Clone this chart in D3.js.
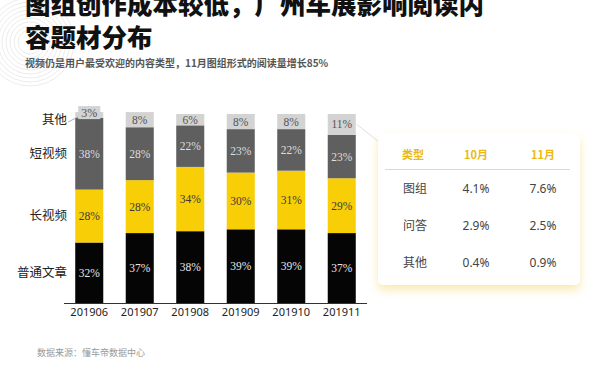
<!DOCTYPE html>
<html>
<head>
<meta charset="utf-8">
<script src="https://cdn.jsdelivr.net/npm/d3@7"></script>
<style>
  body { margin: 0; background: #fff; }
  svg { display: block; font-family: "Noto Sans CJK SC", "Noto Sans", sans-serif; }
  .pct { font-family: "Liberation Serif", "DejaVu Serif", serif; }
</style>
</head>
<body>
<div id="chart"></div>
<script>
// datos del grafico
const meses = ['201906', '201907', '201908', '201909', '201910', '201911'];
const tipos = ['普通文章', '长视频', '短视频', '其他'];
const articulo = [32, 37, 38, 39, 39, 37];
const videoLargo = [28, 28, 34, 30, 31, 29];
const videoCorto = [38, 28, 22, 23, 22, 23];
const otros = [3, 8, 6, 8, 8, 11];

// tabla de la derecha
const cabecera = ['类型', '10月', '11月'];
const filasTipo = ['图组', '问答', '其他'];
const valoresOct = ['4.1%', '2.9%', '0.4%'];
const valoresNov = ['7.6%', '2.5%', '0.9%'];

const W = 600, H = 371;
const colores = { '普通文章': '#050505', '长视频': '#f8cf06', '短视频': '#5f5f5f', '其他': '#d3d3d3' };
const colorTexto = { '普通文章': '#e6e6e6', '长视频': '#3a3a3a', '短视频': '#dddddd', '其他': '#555555' };

const svg = d3.select('#chart').append('svg').attr('width', W).attr('height', H);

const defs = svg.append('defs');
const sombra = defs.append('filter').attr('id', 'sombra')
  .attr('x', '-20%').attr('y', '-20%').attr('width', '140%').attr('height', '150%');
sombra.append('feDropShadow').attr('dx', 0).attr('dy', 5).attr('stdDeviation', 4)
  .attr('flood-color', '#f0c940').attr('flood-opacity', 0.4);

// circulos decorativos arriba a la izquierda
const deco = svg.append('g');
d3.range(12, 48, 4).forEach(r => {
  deco.append('circle').attr('cx', 30).attr('cy', 42).attr('r', r)
    .attr('fill', 'none').attr('stroke', '#e6e6e6').attr('stroke-width', 0.8);
});

// titulo
svg.append('text').attr('x', 25).attr('y', 14)
  .attr('font-size', 25.5).attr('font-weight', 900).attr('fill', '#111')
  .text('图组创作成本较低，广州车展影响阅读内');
svg.append('text').attr('x', 25).attr('y', 47)
  .attr('font-size', 25.5).attr('font-weight', 900).attr('fill', '#111')
  .text('容题材分布');
svg.append('text').attr('x', 25).attr('y', 67)
  .attr('font-size', 10).attr('font-weight', 700).attr('fill', '#555')
  .text('视频仍是用户最受欢迎的内容类型，11月图组形式的阅读量增长85%');

// escalas
const x = d3.scaleBand().domain(meses).range([64, 367]).paddingInner(0.445).paddingOuter(0.2225);
const y = d3.scaleLinear().domain([0, 100]).range([303, 114]);

const filas = meses.map((m, i) => ({
  mes: m, '普通文章': articulo[i], '长视频': videoLargo[i], '短视频': videoCorto[i], '其他': otros[i]
}));
const pila = d3.stack().keys(tipos)(filas);

const capas = svg.append('g').selectAll('g').data(pila).enter().append('g')
  .attr('fill', d => colores[d.key]);

capas.selectAll('rect').data(d => d).enter().append('rect')
  .attr('x', d => x(d.data.mes)).attr('width', x.bandwidth())
  .attr('y', d => y(d[1])).attr('height', d => y(d[0]) - y(d[1]));

const chico = d => (y(d[0]) - y(d[1])) < 8;

// fondo de etiqueta para segmentos muy chicos
pila.forEach(capa => {
  capa.filter(chico).forEach(d => {
    svg.append('rect')
      .attr('x', x(d.data.mes) + 3).attr('width', x.bandwidth() - 6)
      .attr('y', y(d[1]) - 6).attr('height', 13)
      .attr('fill', colores[capa.key]);
  });
});

// etiquetas de porcentaje
pila.forEach(capa => {
  svg.append('g').selectAll('text').data(capa).enter().append('text')
    .attr('class', 'pct')
    .attr('x', d => x(d.data.mes) + x.bandwidth() / 2)
    .attr('y', d => chico(d) ? y(d[1]) + 0.5 : (y(d[0]) + y(d[1])) / 2)
    .attr('dy', '0.35em').attr('text-anchor', 'middle')
    .attr('font-size', d => chico(d) ? 12 : 11.5)
    .attr('fill', colorTexto[capa.key])
    .text(d => (d[1] - d[0]) + '%');
});

// eje x
svg.append('line').attr('x1', 64).attr('x2', 367).attr('y1', 303.5).attr('y2', 303.5)
  .attr('stroke', '#333').attr('stroke-width', 1);
svg.append('g').selectAll('text').data(meses).enter().append('text')
  .attr('x', d => x(d) + x.bandwidth() / 2).attr('y', 316)
  .attr('text-anchor', 'middle').attr('font-family', '"Noto Sans", sans-serif')
  .attr('font-size', 11).attr('fill', '#222').text(d => d);

// nombres de las series al lado de la primera barra
const primera = pila.map(capa => ({ key: capa.key, d: capa[0] }));
svg.append('g').selectAll('text').data(primera).enter().append('text')
  .attr('x', 67)
  .attr('y', p => p.key === '其他' ? y(p.d[1]) + 8 : (y(p.d[0]) + y(p.d[1])) / 2)
  .attr('dy', '0.35em').attr('text-anchor', 'end')
  .attr('font-size', 12.5).attr('fill', '#222').text(p => p.key);
svg.append('line').attr('x1', 68).attr('y1', 122).attr('x2', 78).attr('y2', 117)
  .attr('stroke', '#999').attr('stroke-width', 0.8);

// linea hacia la tabla
const ultimo = pila[3][5];
svg.append('line')
  .attr('x1', x('201911') + x.bandwidth() + 1).attr('y1', (y(ultimo[0]) + y(ultimo[1])) / 2)
  .attr('x2', 379).attr('y2', 142)
  .attr('stroke', '#d6d6d6').attr('stroke-width', 0.8);

// tabla
const caja = svg.append('g');
caja.append('rect').attr('x', 378).attr('y', 133).attr('width', 202).attr('height', 152)
  .attr('rx', 5).attr('fill', '#fff').attr('filter', 'url(#sombra)');
const colX = [413, 476, 543];
caja.selectAll('.cab').data(cabecera).enter().append('text')
  .attr('x', (d, i) => colX[i]).attr('y', 155).attr('dy', '0.35em')
  .attr('text-anchor', 'middle').attr('font-size', 11).attr('font-weight', 700)
  .attr('fill', '#ecb912').text(d => d);
caja.append('line').attr('x1', 385).attr('x2', 570).attr('y1', 169.5).attr('y2', 169.5)
  .attr('stroke', '#cfcfcf').attr('stroke-width', 0.8);
const filaY = [189, 226, 263];
filasTipo.forEach((t, i) => {
  [t, valoresOct[i], valoresNov[i]].forEach((v, j) => {
    caja.append('text').attr('x', colX[j] + (j === 0 ? 2 : 0)).attr('y', filaY[i]).attr('dy', '0.35em')
      .attr('text-anchor', 'middle').attr('font-size', 12)
      .attr('font-family', j === 0 ? '"Noto Sans CJK SC", sans-serif' : '"Noto Sans", sans-serif')
      .attr('fill', '#444').text(v);
  });
});

// fuente
svg.append('text').attr('x', 37).attr('y', 356)
  .attr('font-size', 9).attr('fill', '#999').text('数据来源：懂车帝数据中心');
</script>
</body>
</html>
